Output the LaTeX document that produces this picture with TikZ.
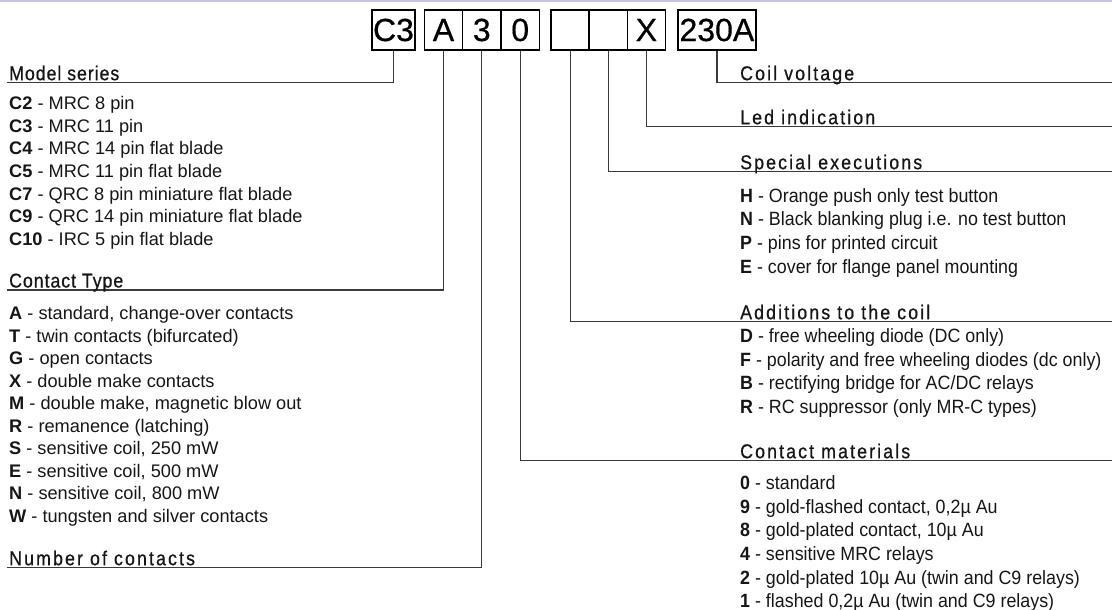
\documentclass[tikz,border=0pt]{standalone}
\usepackage{fontspec}
\setmainfont{Liberation Sans}
\newfontfamily\rfont[FakeStretch=0.93]{Liberation Sans}
\newfontfamily\hfont[FakeStretch=0.89,LetterSpace=4.6,FakeBold=0.7]{Liberation Sans}
\newfontfamily\hfontw[FakeStretch=0.89,LetterSpace=10.5,FakeBold=0.7]{Liberation Sans}
\newfontfamily\bfont[FakeBold=0.5]{Liberation Sans}
\definecolor{txt}{HTML}{161616}
\definecolor{ln}{HTML}{3A3A3A}
\definecolor{topbar}{HTML}{C6C3DB}
\begin{document}
\begin{tikzpicture}[x=1pt,y=-1pt,
  codebox/.style={draw=black, line width=1.5pt, minimum height=40pt, inner sep=0pt, font=\fontsize{32}{32}\selectfont\bfont, text=black},
  item/.style={anchor=base west, inner sep=0pt, font=\fontsize{18.2}{20}\selectfont, text=txt},
  ritem/.style={anchor=base west, inner sep=0pt, font=\fontsize{19.2}{20}\selectfont\rfont, text=txt},
  head/.style={anchor=base west, inner sep=0pt, font=\fontsize{20}{20}\selectfont\hfont, text=txt},
  headw/.style={anchor=base west, inner sep=0pt, font=\fontsize{20}{20}\selectfont\hfontw, text=txt},
  conn/.style={draw=ln, line width=1.2pt}
]
\useasboundingbox (0,0) rectangle (1112,610);
\fill[topbar] (0,0) rectangle (1112,1.6);

% code boxes
\node[codebox, minimum width=43pt] (bc3) at (393.5,30) {C3};
\node[codebox, minimum width=38.33pt] (ba) at (443.5,30) {A};
\node[codebox, minimum width=38.33pt] (b3) at (481.8,30) {3};
\node[codebox, minimum width=38.33pt] (b0) at (520.2,30) {0};
\node[codebox, minimum width=38.17pt] (be1) at (570.1,30) {};
\node[codebox, minimum width=38.17pt] (be2) at (608.3,30) {};
\node[codebox, minimum width=38.17pt] (bx) at (646.4,30) {X};
\node[codebox, minimum width=78.3pt] (bv) at (716.9,30) {230A};

% line ends
\coordinate (ems) at (7,82.7);
\coordinate (ect) at (7,290);
\coordinate (enc) at (7,567.7);
\coordinate (ecm) at (1112,460.7);
\coordinate (ead) at (1112,321.7);
\coordinate (ese) at (1112,171.7);
\coordinate (eli) at (1112,126.7);
\coordinate (ecv) at (1112,82.7);

\draw[conn] (bc3.south) |- (ems);
\draw[conn] (ba.south) |- (ect);
\draw[conn] (b3.south) |- (enc);
\draw[conn] (b0.south) |- (ecm);
\draw[conn] (be1.south) |- (ead);
\draw[conn] (be2.south) |- (ese);
\draw[conn] (bx.south) |- (eli);
\draw[conn] (bv.south) |- (ecv);

% left headings
\node[head] (hms) at (9,80.2) {Model series};
\node[head] (hct) at (9,287.5) {Contact Type};
\node[headw] (hnc) at (9,565.2) {Number of contacts};
% right headings
\node[headw] (hcv) at (740,80.2) {Coil voltage};
\node[headw] (hli) at (740,124.2) {Led indication};
\node[headw] (hse) at (740,169.2) {Special executions};
\node[headw] (had) at (740,319.2) {Additions to the coil};
\node[headw] (hcm) at (740,458.2) {Contact materials};

% model series items
\node[item] (m1) at (9,109.7) {\textbf{C2} - MRC 8 pin};
\node[item] (m2) at (9,132.3) {\textbf{C3} - MRC 11 pin};
\node[item] (m3) at (9,154.9) {\textbf{C4} - MRC 14 pin flat blade};
\node[item] (m4) at (9,177.5) {\textbf{C5} - MRC 11 pin flat blade};
\node[item] (m5) at (9,200.1) {\textbf{C7} - QRC 8 pin miniature flat blade};
\node[item] (m6) at (9,222.7) {\textbf{C9} - QRC 14 pin miniature flat blade};
\node[item] (m7) at (9,245.3) {\textbf{C10} - IRC 5 pin flat blade};

% contact type items
\node[item] (t1) at (9,319.7) {\textbf{A} - standard, change-over contacts};
\node[item] (t2) at (9,342.2) {\textbf{T} - twin contacts (bifurcated)};
\node[item] (t3) at (9,364.7) {\textbf{G} - open contacts};
\node[item] (t4) at (9,387.2) {\textbf{X} - double make contacts};
\node[item] (t5) at (9,409.7) {\textbf{M} - double make, magnetic blow out};
\node[item] (t6) at (9,432.2) {\textbf{R} - remanence (latching)};
\node[item] (t7) at (9,454.7) {\textbf{S} - sensitive coil, 250 mW};
\node[item] (t8) at (9,477.2) {\textbf{E} - sensitive coil, 500 mW};
\node[item] (t9) at (9,499.7) {\textbf{N} - sensitive coil, 800 mW};
\node[item] (t10) at (9,522.2) {\textbf{W} - tungsten and silver contacts};

% special executions
\node[ritem] (s1) at (740,202) {\textbf{H} - Orange push only test button};
\node[ritem] (s2) at (740,225.8) {\textbf{N} - Black blanking plug i.e. no test button};
\node[ritem] (s3) at (740,249.6) {\textbf{P} - pins for printed circuit};
\node[ritem] (s4) at (740,273.4) {\textbf{E} - cover for flange panel mounting};

% additions to the coil
\node[ritem] (a1) at (740,342) {\textbf{D} - free wheeling diode (DC only)};
\node[ritem] (a2) at (740,366) {\textbf{F} - polarity and free wheeling diodes (dc only)};
\node[ritem] (a3) at (740,389.5) {\textbf{B} - rectifying bridge for AC/DC relays};
\node[ritem] (a4) at (740,413.5) {\textbf{R} - RC suppressor (only MR-C types)};

% contact materials
\node[ritem] (c1) at (740,489.3) {\textbf{0} - standard};
\node[ritem] (c2) at (740,513) {\textbf{9} - gold-flashed contact, 0,2µ Au};
\node[ritem] (c3) at (740,536.7) {\textbf{8} - gold-plated contact, 10µ Au};
\node[ritem] (c4) at (740,560.4) {\textbf{4} - sensitive MRC relays};
\node[ritem] (c5) at (740,584.1) {\textbf{2} - gold-plated 10µ Au (twin and C9 relays)};
\node[ritem] (c6) at (740,607.8) {\textbf{1} - flashed 0,2µ Au (twin and C9 relays)};
\end{tikzpicture}
\end{document}
